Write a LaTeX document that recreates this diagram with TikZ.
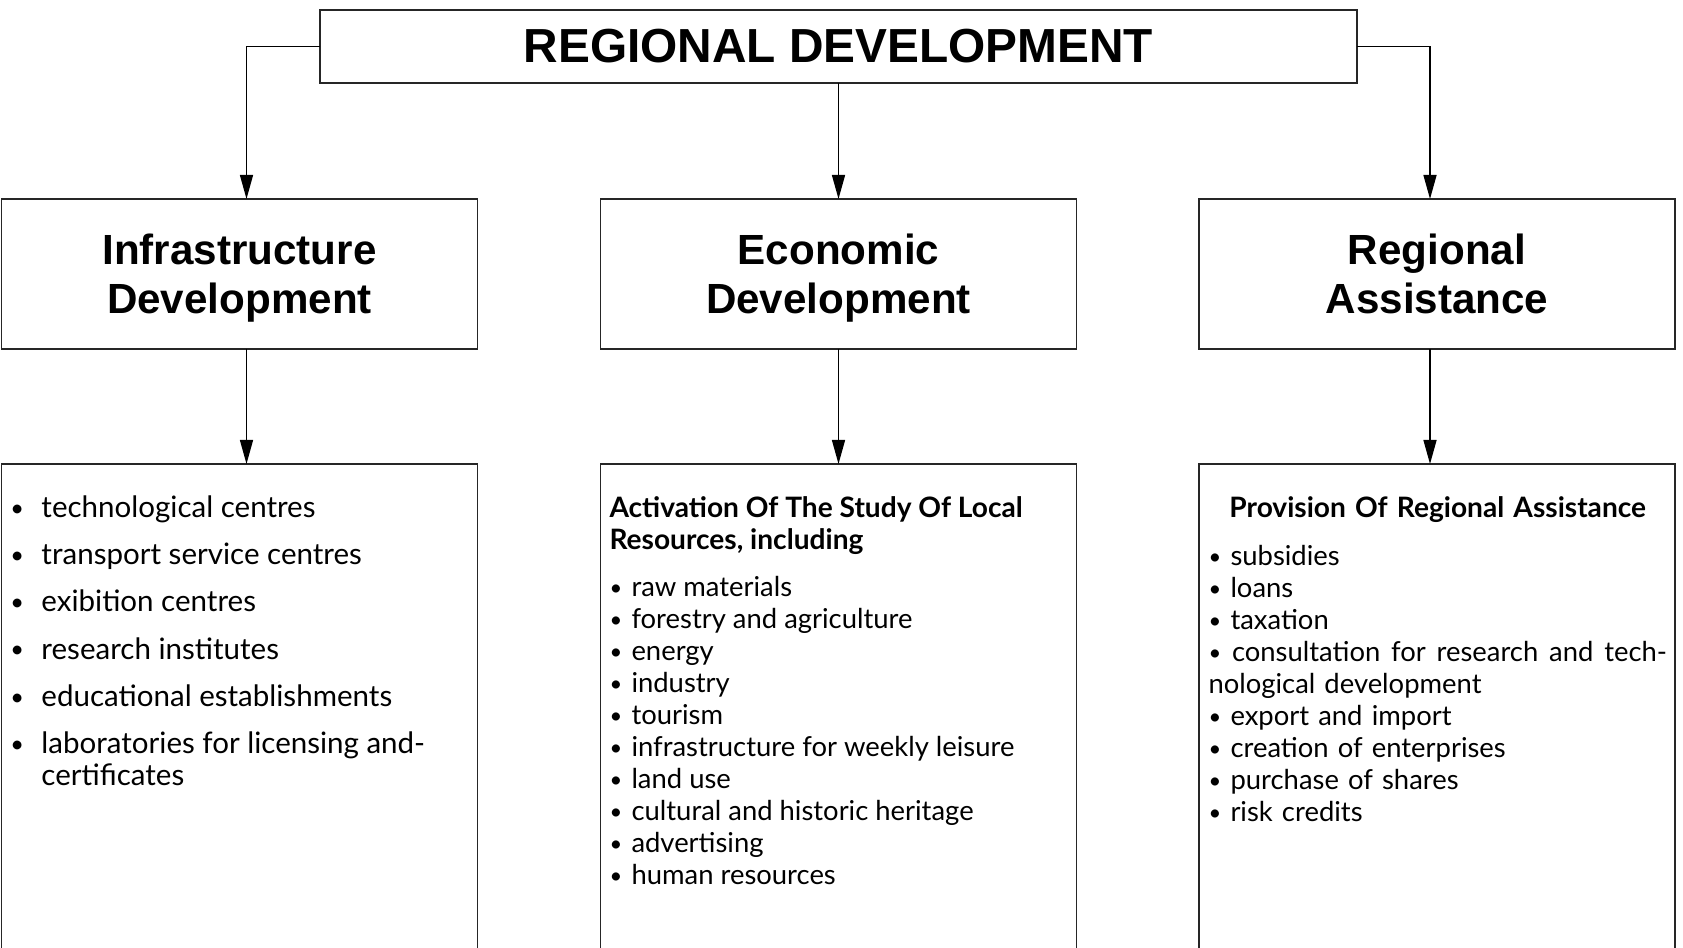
\documentclass[tikz,border=0pt]{standalone}
\usepackage{graphicx}
\usepackage{fontspec}
\setmainfont{Lato}
\newfontfamily\headfont{Liberation Sans}
\usetikzlibrary{arrows.meta,positioning,calc}

\newcommand{\dotmark}{\raisebox{0.3pt}{\scalebox{0.8}{\textbullet}}}
\newcommand{\bul}[1]{\makebox[#1][l]{\dotmark}}

\begin{document}
\begin{tikzpicture}[
    every node/.style={inner sep=0pt, outer sep=0pt},
    frame/.style={draw=black!85, line width=0.45pt},
    topbox/.style={frame, minimum width=10.37cm, minimum height=0.73cm,
        font=\headfont\bfseries\fontsize{13.6}{16}\selectfont},
    headbox/.style={frame, minimum width=4.76cm, minimum height=1.50cm, align=center,
        text depth=0pt, font=\headfont\bfseries\fontsize{12}{13.9}\selectfont},
    listbox/.style={frame, minimum width=4.76cm, minimum height=5.6cm},
    listtext/.style={align=left, font=\fontsize{7.8}{9.1}\selectfont},
    link/.style={draw=black, line width=0.4pt, -{Triangle[length=2.4mm,width=1.3mm]}}
]
\useasboundingbox (0,0) rectangle (16.83,-9.48);
\clip (0,0) rectangle (16.83,-9.48);

% top
\node[topbox] (regDev) at (8.385,-0.465) {REGIONAL DEVELOPMENT};

% second row
\node[headbox, below=1.16cm of regDev] (econHead) {Economic\\Development};
\node[headbox, left=1.23cm of econHead] (infraHead) {Infrastructure\\Development};
\node[headbox, right=1.225cm of econHead] (assistHead) {Regional\\Assistance};

% third row
\node[listbox, below=1.15cm of infraHead] (infraList) {};
\node[listbox, below=1.15cm of econHead] (econList) {};
\node[listbox, below=1.15cm of assistHead] (assistList) {};

\node[listtext, font=\fontsize{8.4}{9.1}\selectfont,
      below right=0.32cm and 0.09cm of infraList.north west] (infraItems) {%
    \bul{3.1mm}technological centres\\[4.3pt]
    \bul{3.1mm}transport service centres\\[4.3pt]
    \bul{3.1mm}exibition centres\\[4.3pt]
    \bul{3.1mm}research institutes\\[4.3pt]
    \bul{3.1mm}educational establishments\\[4.3pt]
    \bul{3.1mm}laboratories for licensing and-\\
    \hspace*{3.1mm}certificates};

\node[listtext, below right=0.325cm and 0.09cm of econList.north west] (econItems) {%
    {\bfseries\fontsize{8}{9.1}\selectfont Activation Of The Study Of Local}\\
    {\bfseries\fontsize{8}{9.1}\selectfont Resources, including}\\[4.4pt]
    \bul{2.2mm}raw materials\\
    \bul{2.2mm}forestry and agriculture\\
    \bul{2.2mm}energy\\
    \bul{2.2mm}industry\\
    \bul{2.2mm}tourism\\
    \bul{2.2mm}infrastructure for weekly leisure\\
    \bul{2.2mm}land use\\
    \bul{2.2mm}cultural and historic heritage\\
    \bul{2.2mm}advertising\\
    \bul{2.2mm}human resources};

\node[listtext, text width=4.585cm, below right=0.325cm and 0.095cm of assistList.north west] (assistItems) {%
    \makebox[\linewidth][c]{\bfseries\fontsize{8}{9.1}\selectfont Provision Of Regional Assistance}\\[4.6pt]
    \bul{2.2mm}subsidies\\
    \bul{2.2mm}loans\\
    \bul{2.2mm}taxation\\
    \makebox[4.585cm][l]{\dotmark\hfill consultation\hfill for\hfill research\hfill and\hfill tech-}\\
    nological development\\
    \bul{2.2mm}export and import\\
    \bul{2.2mm}creation of enterprises\\
    \bul{2.2mm}purchase of shares\\
    \bul{2.2mm}risk credits};

% connectors
\draw[link] (regDev.west) -| ([xshift=0.07cm]infraHead.north);
\draw[link] (regDev.south) -- (econHead.north);
\draw[link] (regDev.east) -| ([xshift=-0.07cm]assistHead.north);
\draw[link] ([xshift=0.07cm]infraHead.south) -- ([xshift=0.07cm]infraList.north);
\draw[link] (econHead.south) -- (econList.north);
\draw[link] ([xshift=-0.07cm]assistHead.south) -- ([xshift=-0.07cm]assistList.north);
\end{tikzpicture}
\end{document}
